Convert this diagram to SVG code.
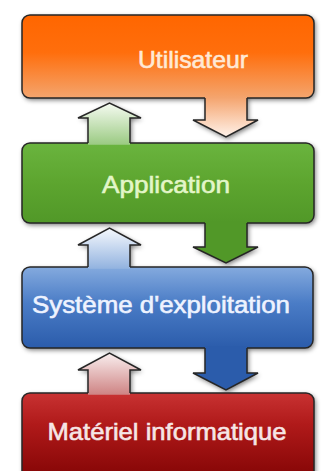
<svg xmlns="http://www.w3.org/2000/svg" width="323" height="471" viewBox="0 0 323 471">
<style>
.box{stroke:#262626;stroke-width:1.5}
.edge{fill:none;stroke:#262626;stroke-width:1.5;stroke-linejoin:miter}
.lbl{font-family:"Liberation Sans",Arial,sans-serif;font-size:24px;text-anchor:middle;stroke-width:0.6}
</style>
<defs>
<filter id="sh" x="-10%" y="-10%" width="120%" height="120%">
<feGaussianBlur stdDeviation="2.5"/>
</filter>
<linearGradient id="gO" gradientUnits="userSpaceOnUse" x1="0" y1="15" x2="0" y2="98">
<stop offset="0" stop-color="#ff6600"/><stop offset="0.45" stop-color="#ff6e0c"/><stop offset="1" stop-color="#f4a56e"/>
</linearGradient>
<linearGradient id="gG" gradientUnits="userSpaceOnUse" x1="0" y1="143" x2="0" y2="223">
<stop offset="0" stop-color="#6ab43e"/><stop offset="0.5" stop-color="#5da52f"/><stop offset="1" stop-color="#519828"/>
</linearGradient>
<linearGradient id="gB" gradientUnits="userSpaceOnUse" x1="0" y1="267" x2="0" y2="348">
<stop offset="0" stop-color="#84aade"/><stop offset="0.45" stop-color="#4a7cc6"/><stop offset="1" stop-color="#2b5cab"/>
</linearGradient>
<linearGradient id="gR" gradientUnits="userSpaceOnUse" x1="0" y1="393" x2="0" y2="471">
<stop offset="0" stop-color="#c83232"/><stop offset="0.4" stop-color="#b01a1a"/><stop offset="1" stop-color="#8a0808"/>
</linearGradient>
<linearGradient id="aO" gradientUnits="userSpaceOnUse" x1="0" y1="97" x2="0" y2="137">
<stop offset="0" stop-color="#f4a36c"/><stop offset="1" stop-color="#fff2ea"/>
</linearGradient>
<linearGradient id="aG" gradientUnits="userSpaceOnUse" x1="0" y1="144" x2="0" y2="103">
<stop offset="0" stop-color="#9ccb84"/><stop offset="1" stop-color="#f6fbf2"/>
</linearGradient>
<linearGradient id="aB" gradientUnits="userSpaceOnUse" x1="0" y1="268" x2="0" y2="228">
<stop offset="0" stop-color="#94b4e0"/><stop offset="1" stop-color="#f6f9fd"/>
</linearGradient>
<linearGradient id="aR" gradientUnits="userSpaceOnUse" x1="0" y1="394" x2="0" y2="353">
<stop offset="0" stop-color="#cf8585"/><stop offset="1" stop-color="#f9efef"/>
</linearGradient>
</defs>
<rect width="323" height="471" fill="#ffffff"/>
<g id="shadows" filter="url(#sh)" fill="#000" opacity="0.55" transform="translate(1.5,2)">
<path d="M30,15 H306 A8 8 0 0 1 314,23 V90 A8 8 0 0 1 306,98 H247 V120 H258 L226,137 L193,120 H205 V98 H30 A8 8 0 0 1 22,90 V23 A8 8 0 0 1 30,15 Z"/>
<path d="M30,143 H88 V118 H78 L109.5,103 L141,118 H130 V143 H306 A8 8 0 0 1 314,151 V215 A8 8 0 0 1 306,223 H247 V247 H258 L226,263 L193,247 H205 V223 H30 A8 8 0 0 1 22,215 V151 A8 8 0 0 1 30,143 Z"/>
<path d="M30,267 H88 V245 H78 L109.5,228 L141,245 H130 V267 H305 A8 8 0 0 1 313,275 V340 A8 8 0 0 1 305,348 H247 V373 H258 L226,390 L193,373 H205 V348 H30 A8 8 0 0 1 22,340 V275 A8 8 0 0 1 30,267 Z"/>
<path d="M30,393 H88 V370 H78 L109.5,353 L141,370 H130 V393 H306 A8 8 0 0 1 314,401 V490 H22 V401 A8 8 0 0 1 30,393 Z"/>
</g>
<g id="utilisateur">
<rect class="box" x="22" y="15" width="292" height="83" rx="8" fill="url(#gO)"/>
<text class="lbl" x="193" y="68" fill="#ffe9d6" stroke="#ffe9d6" textLength="110" lengthAdjust="spacingAndGlyphs">Utilisateur</text>
</g>
<g id="application">
<rect class="box" x="22" y="143" width="292" height="80" rx="8" fill="url(#gG)"/>
<text class="lbl" x="166" y="193" fill="#e3f6c8" stroke="#e3f6c8" textLength="128" lengthAdjust="spacingAndGlyphs">Application</text>
</g>
<g id="systeme">
<rect class="box" x="22" y="267" width="291" height="81" rx="8" fill="url(#gB)"/>
<text class="lbl" x="161" y="313" fill="#eef3ff" stroke="#eef3ff" textLength="258" lengthAdjust="spacingAndGlyphs">Système d'exploitation</text>
</g>
<g id="materiel">
<rect class="box" x="22" y="393" width="292" height="100" rx="8" fill="url(#gR)"/>
<text class="lbl" x="167" y="440" fill="#f6e6e6" stroke="#f6e6e6" textLength="239" lengthAdjust="spacingAndGlyphs">Matériel informatique</text>
</g>
<g id="connectors">
<polygon points="205,96.3 247,96.3 247,120 258,120 226,137 193,120 205,120" fill="url(#aO)"/>
<polyline class="edge" points="205,98 205,120 193,120 226,137 258,120 247,120 247,98"/>
<polygon points="88,144.7 88,118 78,118 109.5,103 141,118 130,118 130,144.7" fill="url(#aG)"/>
<polyline class="edge" points="88,143 88,118 78,118 109.5,103 141,118 130,118 130,143"/>
<polygon points="205,221.3 247,221.3 247,247 258,247 226,263 193,247 205,247" fill="#519828"/>
<polyline class="edge" points="205,223 205,247 193,247 226,263 258,247 247,247 247,223"/>
<polygon points="88,268.7 88,245 78,245 109.5,228 141,245 130,245 130,268.7" fill="url(#aB)"/>
<polyline class="edge" points="88,267 88,245 78,245 109.5,228 141,245 130,245 130,267"/>
<polygon points="205,346.3 247,346.3 247,373 258,373 226,390 193,373 205,373" fill="#2b5cab"/>
<polyline class="edge" points="205,348 205,373 193,373 226,390 258,373 247,373 247,348"/>
<polygon points="88,394.7 88,370 78,370 109.5,353 141,370 130,370 130,394.7" fill="url(#aR)"/>
<polyline class="edge" points="88,393 88,370 78,370 109.5,353 141,370 130,370 130,393"/>
</g>
</svg>
